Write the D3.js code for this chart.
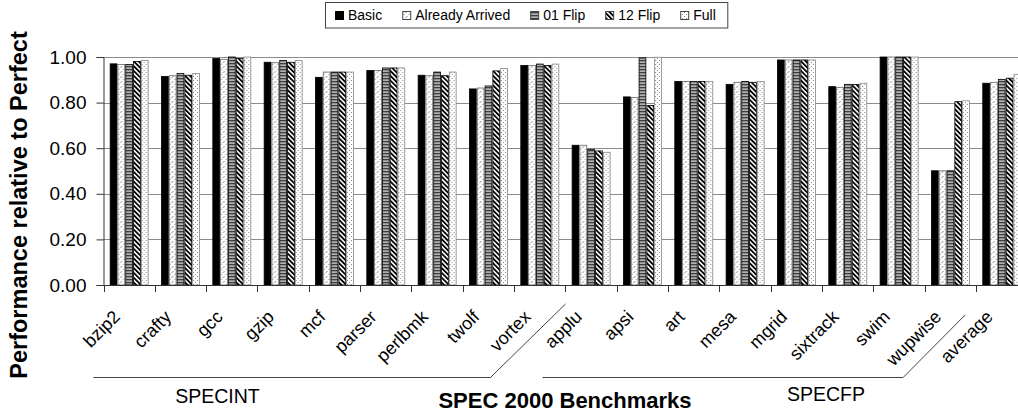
<!DOCTYPE html>
<html>
<head>
<meta charset="utf-8">
<script src="https://cdn.jsdelivr.net/npm/d3@7"></script>
<style>
body { margin: 0; background: #fff; }
svg { display: block; font-family: Arial, "Liberation Sans", sans-serif; }
</style>
</head>
<body>
<svg width="1018" height="413"></svg>
<script>
"use strict";

// Data.

var benchmarks = ["bzip2", "crafty", "gcc", "gzip", "mcf", "parser", "perlbmk", "twolf", "vortex",
                  "applu", "apsi", "art", "mesa", "mgrid", "sixtrack", "swim", "wupwise", "average"];

var seriesNames = ["Basic", "Already Arrived", "01 Flip", "12 Flip", "Full"];

var basic          = [0.970, 0.915, 0.993, 0.977, 0.911, 0.941, 0.920, 0.860, 0.963,
                      0.613, 0.825, 0.893, 0.880, 0.987, 0.870, 1.000, 0.501, 0.885];
var alreadyArrived = [0.967, 0.918, 0.990, 0.975, 0.934, 0.941, 0.918, 0.864, 0.963,
                      0.613, 0.823, 0.893, 0.889, 0.987, 0.867, 1.000, 0.501, 0.889];
var flip01         = [0.967, 0.928, 1.000, 0.985, 0.934, 0.952, 0.934, 0.873, 0.969,
                      0.595, 0.996, 0.893, 0.893, 0.987, 0.880, 1.000, 0.501, 0.902];
var flip12         = [0.980, 0.920, 0.994, 0.977, 0.934, 0.952, 0.918, 0.939, 0.963,
                      0.588, 0.787, 0.893, 0.889, 0.987, 0.880, 1.000, 0.804, 0.907];
var full           = [0.985, 0.928, 1.000, 0.985, 0.934, 0.952, 0.934, 0.950, 0.969,
                      0.582, 0.999, 0.893, 0.893, 0.987, 0.885, 1.000, 0.808, 0.924];

var yTicks = [0, 0.2, 0.4, 0.6, 0.8, 1.0];

var groupNames = ["SPECINT", "SPECFP"];
var groupFirst = ["bzip2", "applu"];
var groupLast  = ["vortex", "wupwise"];

var xTitle = "SPEC 2000 Benchmarks";
var yTitle = "Performance relative to Perfect";

// SVG and layout.

var svg = d3.select("svg");
var PlotLeft = 103.5;
var Step = 51.33;
var PlotTop = 57;
var PlotBottom = 285;

var x = d3.scaleBand()
    .domain(benchmarks)
    .range([PlotLeft, PlotLeft + Step*benchmarks.length])
    .paddingInner(0.24)
    .paddingOuter(0.12);

var xs = d3.scaleBand()
    .domain(seriesNames)
    .range([0, x.bandwidth()]);

var y = d3.scaleLinear()
    .domain([0, 1])
    .range([PlotBottom, PlotTop]);

var boundary = function(i){ return PlotLeft + Step*i; };

// Patterns.

var defs = svg.append("defs");

var pAA = defs.append("pattern").attr("id", "pAA")
    .attr("patternUnits", "userSpaceOnUse").attr("width", 5).attr("height", 5);
pAA.append("rect").attr("width", 5).attr("height", 5).attr("fill", "#fff");
pAA.append("path").attr("d", "M0.5,3 L2.5,1 M3,5.5 L5,3.5")
    .attr("stroke", "#777").attr("stroke-width", 0.9).attr("fill", "none");

var p01 = defs.append("pattern").attr("id", "p01")
    .attr("patternUnits", "userSpaceOnUse").attr("width", 4).attr("height", 3);
p01.append("rect").attr("width", 4).attr("height", 3).attr("fill", "#b0b0b0");
p01.append("rect").attr("width", 4).attr("height", 1.3).attr("fill", "#404040");

var p12 = defs.append("pattern").attr("id", "p12")
    .attr("patternUnits", "userSpaceOnUse").attr("width", 3.4).attr("height", 10)
    .attr("patternTransform", "rotate(-45)");
p12.append("rect").attr("width", 3.4).attr("height", 10).attr("fill", "#fff");
p12.append("rect").attr("width", 1.8).attr("height", 10).attr("fill", "#000");

var pFull = defs.append("pattern").attr("id", "pFull")
    .attr("patternUnits", "userSpaceOnUse").attr("width", 4).attr("height", 4);
pFull.append("rect").attr("width", 4).attr("height", 4).attr("fill", "#fff");
pFull.append("rect").attr("x", 0).attr("y", 0).attr("width", 1).attr("height", 1).attr("fill", "#8a8a8a");
pFull.append("rect").attr("x", 2).attr("y", 2).attr("width", 1).attr("height", 1).attr("fill", "#8a8a8a");

var SeriesFill = ["#000", "url(#pAA)", "url(#p01)", "url(#p12)", "url(#pFull)"];
var SeriesStroke = ["#000", "#666", "#000", "#000", "#888"];
var seriesValues = [basic, alreadyArrived, flip01, flip12, full];

// Gridlines and y axis.

svg.append("g").selectAll("line")
    .data(yTicks.filter(function(d){ return d > 0; }))
    .enter().append("line")
        .attr("x1", PlotLeft).attr("x2", 1018)
        .attr("y1", function(d){ return Math.round(y(d)) + 0.5; })
        .attr("y2", function(d){ return Math.round(y(d)) + 0.5; })
        .attr("stroke", "#8c8c8c");

var yAxis = svg.append("g")
    .attr("transform", "translate(" + PlotLeft + ",0)")
    .call(d3.axisLeft(y).tickValues(yTicks).tickFormat(d3.format(".2f")).tickSizeOuter(0).tickSize(7).tickPadding(10));
yAxis.select(".domain").attr("stroke", "#333");
yAxis.selectAll(".tick line").attr("stroke", "#333");
yAxis.selectAll("text").attr("font-size", "19px").attr("fill", "#000").attr("font-family", "Arial, 'Liberation Sans', sans-serif");

// Bars.

var groupsG = svg.append("g").selectAll("g")
    .data(benchmarks)
    .enter().append("g")
        .attr("transform", function(d){ return "translate(" + x(d) + ",0)"; });

groupsG.selectAll("rect")
    .data(function(d, i){
        return seriesNames.map(function(s, k){ return {s: s, k: k, v: seriesValues[k][i]}; });
    })
    .enter().append("rect")
        .attr("x", function(d){ return xs(d.s) + 0.5; })
        .attr("y", function(d){ return y(d.v); })
        .attr("width", xs.bandwidth() - 1)
        .attr("height", function(d){ return y(0) - y(d.v); })
        .attr("fill", function(d){ return SeriesFill[d.k]; })
        .attr("stroke", function(d){ return SeriesStroke[d.k]; })
        .attr("stroke-width", 0.8);

// X axis baseline and ticks.

svg.append("line")
    .attr("x1", PlotLeft).attr("x2", 1018)
    .attr("y1", PlotBottom + 0.5).attr("y2", PlotBottom + 0.5)
    .attr("stroke", "#333");

svg.append("g").selectAll("line")
    .data(d3.range(benchmarks.length + 1))
    .enter().append("line")
        .attr("x1", function(i){ return Math.round(boundary(i)) + 0.5; })
        .attr("x2", function(i){ return Math.round(boundary(i)) + 0.5; })
        .attr("y1", PlotBottom).attr("y2", PlotBottom + 7)
        .attr("stroke", "#333");

svg.append("g").selectAll("text")
    .data(benchmarks)
    .enter().append("text")
        .attr("transform", function(d){
            return "translate(" + (x(d) + x.bandwidth()/2 - 8) + ",318) rotate(-45)";
        })
        .attr("text-anchor", "end")
        .attr("font-size", "18px")
        .text(function(d){ return d; });

// Group brackets.

var brackets = [
    {x0: boundary(benchmarks.indexOf(groupFirst[0])) - 10,
     x1: boundary(benchmarks.indexOf(groupLast[0]) + 1) - 75,
     x2: boundary(benchmarks.indexOf(groupLast[0]) + 1), y2: 304},
    {x0: boundary(benchmarks.indexOf(groupFirst[1])) - 23,
     x1: boundary(benchmarks.indexOf(groupLast[1]) + 1) - 73,
     x2: boundary(benchmarks.indexOf(groupLast[1]) + 1) - 11, y2: 315}
];
var BracketY = 377.5;

svg.append("g").selectAll("path")
    .data(brackets)
    .enter().append("path")
        .attr("d", function(b){
            return "M" + b.x0 + "," + BracketY + "H" + b.x1 + "L" + b.x2 + "," + b.y2;
        })
        .attr("fill", "none")
        .attr("stroke", "#444");

svg.append("text").attr("x", 217.5).attr("y", 403).attr("text-anchor", "middle")
    .attr("font-size", "19.5px").text(groupNames[0]);
svg.append("text").attr("x", 826).attr("y", 401).attr("text-anchor", "middle")
    .attr("font-size", "19.5px").text(groupNames[1]);

// Axis titles.

svg.append("text").attr("x", 565).attr("y", 408).attr("text-anchor", "middle")
    .attr("font-size", "22px").attr("font-weight", "bold").text(xTitle);

svg.append("text")
    .attr("transform", "translate(27,205) rotate(-90)")
    .attr("text-anchor", "middle")
    .attr("font-size", "23.5px").attr("font-weight", "bold").text(yTitle);

// Legend.

var legend = svg.append("g");
var legendBox = legend.append("rect")
    .attr("x", 325.5).attr("y", 2.5).attr("height", 25.5)
    .attr("fill", "#fff").attr("stroke", "#444");

var lx = 335;
seriesNames.forEach(function(s, k){
    legend.append("rect")
        .attr("x", lx + 0.5).attr("y", 11.5).attr("width", 8).attr("height", 8)
        .attr("fill", SeriesFill[k]).attr("stroke", k === 0 ? "#000" : "#444");
    var t = legend.append("text")
        .attr("x", lx + 13).attr("y", 20)
        .attr("font-size", "14px")
        .text(s);
    lx += 13 + t.node().getComputedTextLength() + 20;
});
legendBox.attr("width", lx - 20 + 12 - 325.5);
</script>
</body>
</html>
